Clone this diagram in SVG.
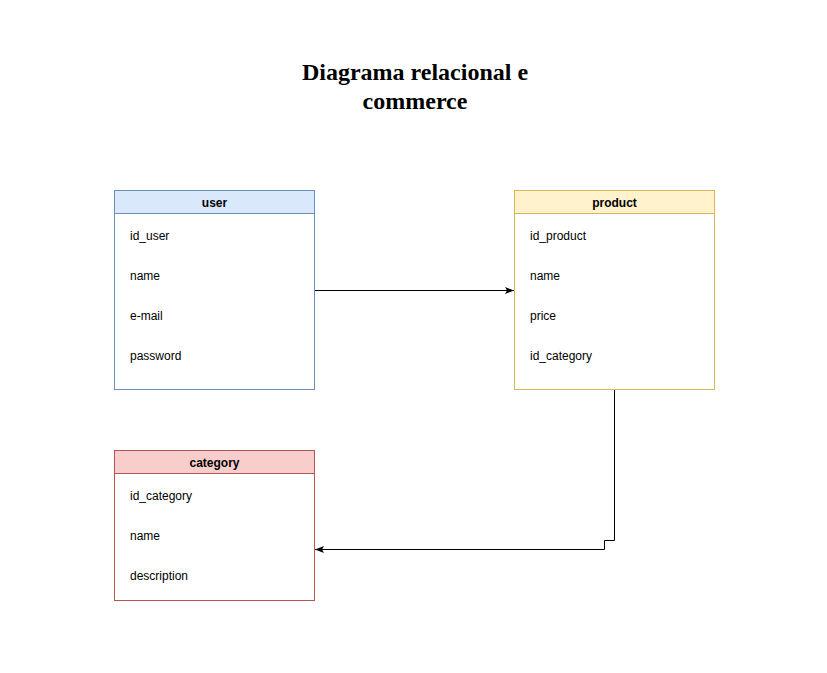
<svg xmlns="http://www.w3.org/2000/svg" width="827" height="673" viewBox="0 0 827 673">
<defs>
<style>
.title{font-family:"Liberation Serif",serif;font-weight:bold;font-size:24px;fill:#000;text-anchor:middle}
.hdr{font-family:"Liberation Sans",Arial,sans-serif;font-weight:bold;font-size:12px;fill:#000;text-anchor:middle}
.fld{font-family:"Liberation Sans",Arial,sans-serif;font-size:12px;fill:#000}
.edge{fill:none;stroke:#000;stroke-width:1}
</style>
<marker id="arr" markerWidth="10" markerHeight="8" refX="9" refY="4" orient="auto" markerUnits="userSpaceOnUse">
<path d="M0,0.5 L9,4 L0,7.5 L2,4 Z" fill="#000"/>
</marker>
</defs>
<rect width="827" height="673" fill="#fff"/>
<g id="title">
<text class="title" x="415" y="80">Diagrama relacional e</text>
<text class="title" x="415" y="109">commerce</text>
</g>
<g id="user">
<rect x="114.5" y="190.5" width="200" height="199" fill="#fff" stroke="#6c8ebf"/>
<rect x="114.5" y="190.5" width="200" height="23" fill="#dae8fc" stroke="#6c8ebf"/>
<text class="hdr" x="214.5" y="206.5">user</text>
<text class="fld" x="130" y="240">id_user</text>
<text class="fld" x="130" y="280">name</text>
<text class="fld" x="130" y="320">e-mail</text>
<text class="fld" x="130" y="360">password</text>
</g>
<g id="product">
<rect x="514.5" y="190.5" width="200" height="199" fill="#fff" stroke="#d6b656"/>
<rect x="514.5" y="190.5" width="200" height="23" fill="#fff2cc" stroke="#d6b656"/>
<text class="hdr" x="614.5" y="206.5">product</text>
<text class="fld" x="530" y="240">id_product</text>
<text class="fld" x="530" y="280">name</text>
<text class="fld" x="530" y="320">price</text>
<text class="fld" x="530" y="360">id_category</text>
</g>
<g id="category">
<rect x="114.5" y="450.5" width="200" height="150" fill="#fff" stroke="#b85450"/>
<rect x="114.5" y="450.5" width="200" height="23" fill="#f8cecc" stroke="#b85450"/>
<text class="hdr" x="214.5" y="466.5">category</text>
<text class="fld" x="130" y="500">id_category</text>
<text class="fld" x="130" y="540">name</text>
<text class="fld" x="130" y="580">description</text>
</g>
<g id="connectors">
<path class="edge" d="M315,290.5 L514,290.5" marker-end="url(#arr)"/>
<path class="edge" d="M614.5,390 L614.5,540.5 L604.5,540.5 L604.5,549.5 L315,549.5" marker-end="url(#arr)"/>
</g>
</svg>
